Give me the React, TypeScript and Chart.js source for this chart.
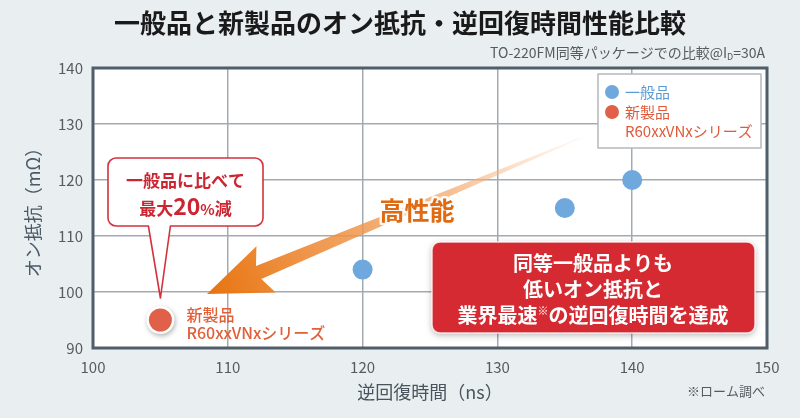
import { useEffect, useRef } from 'react'
import { Chart, registerables } from 'chart.js'

Chart.register(...registerables)

// axis ticks
const xTicks = [100, 110, 120, 130, 140, 150]
const yTicks = [90, 100, 110, 120, 130, 140]

// series: reverse recovery time (ns) / on-resistance (mΩ)
const generalLabel = '一般品'
const generalTrr = [120, 135, 140]
const generalRon = [104, 115, 120]

const newLabelLines = ['新製品', 'R60xxVNxシリーズ']
const newTrr = [105]
const newRon = [95]

const titleText = '一般品と新製品のオン抵抗・逆回復時間性能比較'
const xTitle = '逆回復時間（ns）'
const yTitle = 'オン抵抗（mΩ）'
const calloutLine1 = '一般品に比べて'
const boxLines = ['同等一般品よりも', '低いオン抵抗と']
const noteText = '※ローム調べ'

const JP = '"Noto Sans CJK JP", "Noto Sans", sans-serif'
const BLUE = '#6ea8dc'
const RED = '#e0604a'

type Run = { text: string; font: string; dy?: number }

function drawRuns(ctx: CanvasRenderingContext2D, runs: Run[], x: number, y: number, align: 'left' | 'center' | 'right') {
  let total = 0
  const widths = runs.map((r) => {
    ctx.font = r.font
    const w = ctx.measureText(r.text).width
    total += w
    return w
  })
  let cx = align === 'left' ? x : align === 'center' ? x - total / 2 : x - total
  ctx.textAlign = 'left'
  ctx.textBaseline = 'alphabetic'
  runs.forEach((r, i) => {
    ctx.font = r.font
    ctx.fillText(r.text, cx, y + (r.dy || 0))
    cx += widths[i]
  })
}

const annotations = {
  id: 'annotations',
  beforeDraw(chart: any) {
    const { ctx, chartArea: a } = chart
    ctx.save()
    ctx.fillStyle = '#ffffff'
    ctx.fillRect(a.left, a.top, a.right - a.left, a.bottom - a.top)
    ctx.restore()
  },
  beforeDatasetsDraw(chart: any) {
    // white ring with soft shadow under the new product points
    const ctx = chart.ctx
    const meta = chart.getDatasetMeta(1)
    ctx.save()
    ctx.shadowColor = 'rgba(0,0,0,0.3)'
    ctx.shadowBlur = 5
    ctx.shadowOffsetX = 1
    ctx.shadowOffsetY = 2
    ctx.fillStyle = '#ffffff'
    meta.data.forEach((pt: any) => {
      ctx.beginPath()
      ctx.arc(pt.x, pt.y, 14, 0, Math.PI * 2)
      ctx.fill()
    })
    ctx.restore()
  },
  afterDraw(chart: any) {
    const { ctx, chartArea: a, scales } = chart
    const px = scales.x.getPixelForValue(newTrr[0])
    const py = scales.y.getPixelForValue(newRon[0])
    ctx.save()

    // plot frame
    ctx.strokeStyle = '#4f5e69'
    ctx.lineWidth = 3
    ctx.strokeRect(a.left, a.top, a.right - a.left, a.bottom - a.top)

    // arrow
    const tail = { x: 583, y: 137 }
    const tip = { x: 207, y: 294 }
    const dx = tip.x - tail.x
    const dy = tip.y - tail.y
    const len = Math.hypot(dx, dy)
    const ux = dx / len
    const uy = dy / len
    const nx = -uy
    const ny = ux
    const headLen = 60
    const headHalf = 25
    const shaftHalf = 7
    const bx = tip.x - ux * headLen
    const by = tip.y - uy * headLen
    const grad = ctx.createLinearGradient(tail.x, tail.y, tip.x, tip.y)
    grad.addColorStop(0, 'rgba(248,200,160,0.1)')
    grad.addColorStop(0.35, 'rgba(244,170,110,0.75)')
    grad.addColorStop(1, '#e8730e')
    ctx.fillStyle = grad
    ctx.beginPath()
    ctx.moveTo(tail.x + nx * 0.6, tail.y + ny * 0.6)
    ctx.lineTo(bx + ux * 4 + nx * shaftHalf, by + uy * 4 + ny * shaftHalf)
    ctx.lineTo(bx - ux * 4 + nx * headHalf, by - uy * 4 + ny * headHalf)
    ctx.lineTo(tip.x, tip.y)
    ctx.lineTo(bx - ux * 4 - nx * headHalf, by - uy * 4 - ny * headHalf)
    ctx.lineTo(bx + ux * 4 - nx * shaftHalf, by + uy * 4 - ny * shaftHalf)
    ctx.lineTo(tail.x - nx * 0.6, tail.y - ny * 0.6)
    ctx.closePath()
    ctx.fill()

    // 高性能
    ctx.font = `bold 25px ${JP}`
    ctx.textAlign = 'center'
    ctx.textBaseline = 'middle'
    ctx.lineWidth = 5
    ctx.lineJoin = 'round'
    ctx.strokeStyle = 'rgba(255,255,255,0.9)'
    ctx.strokeText('高性能', 417, 210)
    ctx.fillStyle = '#e06a12'
    ctx.fillText('高性能', 417, 210)

    // callout
    const cl = 108, cr = 263, ct = 158, cb = 226, r = 8
    const tipY = py - 22
    ctx.beginPath()
    ctx.moveTo(cl + r, ct)
    ctx.lineTo(cr - r, ct)
    ctx.arcTo(cr, ct, cr, ct + r, r)
    ctx.lineTo(cr, cb - r)
    ctx.arcTo(cr, cb, cr - r, cb, r)
    ctx.lineTo(px + 10, cb)
    ctx.lineTo(px, tipY)
    ctx.lineTo(px - 12, cb)
    ctx.lineTo(cl + r, cb)
    ctx.arcTo(cl, cb, cl, cb - r, r)
    ctx.lineTo(cl, ct + r)
    ctx.arcTo(cl, ct, cl + r, ct, r)
    ctx.closePath()
    ctx.fillStyle = '#ffffff'
    ctx.fill()
    ctx.strokeStyle = '#d2323c'
    ctx.lineWidth = 1.6
    ctx.stroke()
    ctx.fillStyle = '#cc2430'
    ctx.font = `bold 17px ${JP}`
    ctx.textAlign = 'center'
    ctx.textBaseline = 'middle'
    ctx.fillText(calloutLine1, (cl + cr) / 2, 181)
    drawRuns(ctx, [
      { text: '最大', font: `bold 17px ${JP}` },
      { text: '20', font: `bold 23px ${JP}` },
      { text: '%', font: `bold 15px ${JP}` },
      { text: '減', font: `bold 17px ${JP}` },
    ], (cl + cr) / 2, 215, 'center')

    // label next to the new product point
    ctx.fillStyle = '#e0603a'
    ctx.font = `500 16px ${JP}`
    ctx.textAlign = 'left'
    ctx.textBaseline = 'middle'
    ctx.fillText(newLabelLines[0], px + 26, py - 5)
    ctx.fillText(newLabelLines[1], px + 26, py + 13)

    // red message box
    ctx.save()
    ctx.shadowColor = 'rgba(0,0,0,0.3)'
    ctx.shadowBlur = 6
    ctx.shadowOffsetY = 2
    ctx.beginPath()
    ctx.roundRect(432, 242, 323, 91, 8)
    ctx.fillStyle = '#d62a32'
    ctx.fill()
    ctx.restore()
    ctx.strokeStyle = 'rgba(255,255,255,0.8)'
    ctx.lineWidth = 1.5
    ctx.beginPath()
    ctx.roundRect(432, 242, 323, 91, 8)
    ctx.stroke()
    ctx.fillStyle = '#ffffff'
    ctx.font = `bold 20px ${JP}`
    ctx.textAlign = 'center'
    ctx.textBaseline = 'middle'
    ctx.fillText(boxLines[0], 593, 263)
    ctx.fillText(boxLines[1], 593, 289)
    drawRuns(ctx, [
      { text: '業界最速', font: `bold 20px ${JP}` },
      { text: '※', font: `11px ${JP}`, dy: -8 },
      { text: 'の逆回復時間を達成', font: `bold 20px ${JP}` },
    ], 593, 323, 'center')

    // legend
    ctx.fillStyle = '#ffffff'
    ctx.fillRect(598, 74, 163, 74)
    ctx.strokeStyle = '#b4b9bd'
    ctx.lineWidth = 1.5
    ctx.strokeRect(598, 74, 163, 74)
    ctx.fillStyle = BLUE
    ctx.beginPath()
    ctx.arc(612, 92, 7, 0, Math.PI * 2)
    ctx.fill()
    ctx.fillStyle = RED
    ctx.beginPath()
    ctx.arc(612, 112, 7, 0, Math.PI * 2)
    ctx.fill()
    ctx.font = `15px ${JP}`
    ctx.textAlign = 'left'
    ctx.textBaseline = 'middle'
    ctx.fillStyle = '#5b9bd5'
    ctx.fillText(chart.data.datasets[0].label, 625, 92)
    ctx.fillStyle = '#e05a3a'
    ctx.fillText(newLabelLines[0], 625, 112)
    ctx.fillText(newLabelLines[1], 625, 131)

    // title & notes
    ctx.fillStyle = '#1a1a1a'
    ctx.font = `bold 26px ${JP}`
    ctx.textAlign = 'center'
    ctx.textBaseline = 'middle'
    ctx.fillText(titleText, 400, 23)
    ctx.fillStyle = '#555b60'
    drawRuns(ctx, [
      { text: 'TO-220FM同等パッケージでの比較@I', font: `14px ${JP}` },
      { text: 'D', font: `9px ${JP}`, dy: 2 },
      { text: '=30A', font: `14px ${JP}` },
    ], 765, 58, 'right')
    ctx.fillStyle = '#555b60'
    ctx.font = `13px ${JP}`
    ctx.textAlign = 'right'
    ctx.textBaseline = 'middle'
    ctx.fillText(noteText, 765, 391)

    ctx.restore()
  },
}

export default function App() {
  const canvasRef = useRef<HTMLCanvasElement>(null)
  const chartRef = useRef<Chart | null>(null)

  useEffect(() => {
    if (!canvasRef.current) return
    if (chartRef.current) chartRef.current.destroy()
    const ctx = canvasRef.current.getContext('2d')
    if (!ctx) return

    chartRef.current = new Chart(ctx, {
      type: 'scatter',
      data: {
        datasets: [
          {
            label: generalLabel,
            data: generalTrr.map((x, i) => ({ x, y: generalRon[i] })),
            backgroundColor: BLUE,
            borderWidth: 0,
            pointRadius: 10,
            pointHoverRadius: 10,
          },
          {
            label: newLabelLines.join(' '),
            data: newTrr.map((x, i) => ({ x, y: newRon[i] })),
            backgroundColor: RED,
            borderWidth: 0,
            pointRadius: 11.5,
            pointHoverRadius: 11.5,
          },
        ],
      },
      options: {
        animation: false,
        responsive: true,
        maintainAspectRatio: false,
        layout: { padding: { top: 68, right: 33, left: 0, bottom: 0 } },
        plugins: {
          legend: { display: false },
          tooltip: { enabled: false },
        },
        scales: {
          x: {
            type: 'linear',
            min: xTicks[0],
            max: xTicks[xTicks.length - 1],
            afterFit: (scale: any) => { scale.height = 70 },
            afterBuildTicks: (scale: any) => { scale.ticks = xTicks.map((value) => ({ value })) },
            grid: { color: '#a3abb1', lineWidth: 1.5, drawTicks: false },
            border: { display: false },
            ticks: { padding: 10, color: '#555b60', font: { family: JP, size: 15 } },
            title: {
              display: true,
              text: xTitle,
              color: '#4a545c',
              font: { family: JP, size: 18 },
              padding: { top: 0, bottom: 15 },
            },
          },
          y: {
            type: 'linear',
            min: yTicks[0],
            max: yTicks[yTicks.length - 1],
            afterFit: (scale: any) => { scale.width = 93 },
            afterBuildTicks: (scale: any) => { scale.ticks = yTicks.map((value) => ({ value })) },
            grid: { color: '#a3abb1', lineWidth: 1.5, drawTicks: false },
            border: { display: false },
            ticks: { padding: 10, color: '#555b60', font: { family: JP, size: 15 } },
            title: {
              display: true,
              text: yTitle,
              color: '#4a5a66',
              font: { family: JP, size: 18 },
              padding: { top: 22, bottom: 0 },
            },
          },
        },
      },
      plugins: [annotations],
    } as any)

    return () => {
      if (chartRef.current) {
        chartRef.current.destroy()
        chartRef.current = null
      }
    }
  }, [])

  return (
    <div style={{ position: 'fixed', left: 0, top: 0, width: 800, height: 418, background: '#e9eef0' }}>
      <canvas ref={canvasRef} />
    </div>
  )
}
